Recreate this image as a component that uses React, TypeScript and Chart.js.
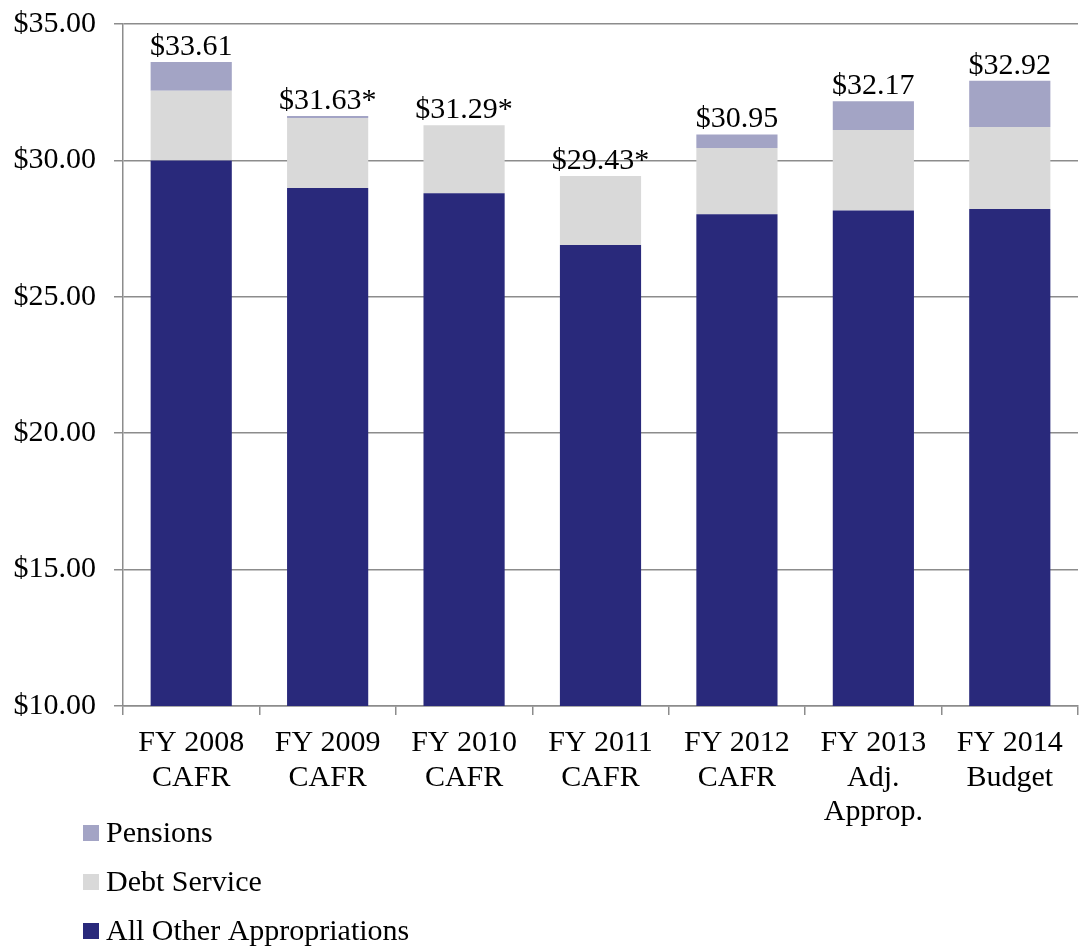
import React, { useEffect, useRef } from "react";
import { Chart, registerables } from "chart.js";

Chart.register(...registerables);

const categories: string[][] = [
  ["FY 2008", "CAFR"],
  ["FY 2009", "CAFR"],
  ["FY 2010", "CAFR"],
  ["FY 2011", "CAFR"],
  ["FY 2012", "CAFR"],
  ["FY 2013", "Adj.", "Approp."],
  ["FY 2014", "Budget"],
];
const allOther = [30.0, 28.99, 28.8, 26.9, 28.03, 28.16, 28.22];
const debtService = [2.55, 2.56, 2.49, 2.53, 2.42, 2.95, 3.0];
const pensions = [1.06, 0.08, 0.0, 0.0, 0.5, 1.06, 1.7];
const totalLabels = ["$33.61", "$31.63*", "$31.29*", "$29.43*", "$30.95", "$32.17", "$32.92"];
const yTicks = { min: 10, max: 35, step: 5 };

const COLORS = {
  other: "#29297B",
  debt: "#D9D9D9",
  pension: "#A3A4C5",
  grid: "#8C8C8C",
};
const FONT = '"Liberation Serif", "Times New Roman", serif';

const totalsPlugin = {
  id: "totals",
  afterDatasetsDraw(chart: any) {
    const ctx = chart.ctx;
    const meta = chart.getDatasetMeta(2);
    ctx.save();
    ctx.font = `30px ${FONT}`;
    ctx.fillStyle = "#000";
    ctx.textAlign = "center";
    ctx.textBaseline = "alphabetic";
    meta.data.forEach((el: any, i: number) => {
      ctx.fillText(totalLabels[i], el.x, el.y - 7);
    });
    ctx.restore();
  },
};

const legendPlugin = {
  id: "sideLegend",
  afterDraw(chart: any) {
    const ctx = chart.ctx;
    const items = [
      { label: "Pensions", color: COLORS.pension },
      { label: "Debt Service", color: COLORS.debt },
      { label: "All Other Appropriations", color: COLORS.other },
    ];
    const base = chart.chartArea.bottom + 127;
    ctx.save();
    ctx.font = `30px ${FONT}`;
    ctx.textBaseline = "middle";
    ctx.textAlign = "left";
    items.forEach((it, i) => {
      const cy = base + i * 49;
      ctx.fillStyle = it.color;
      ctx.fillRect(83, cy - 8, 16, 16);
      ctx.fillStyle = "#000";
      ctx.fillText(it.label, 106, cy + 1);
    });
    ctx.restore();
  },
};

export default function App() {
  const ref = useRef<HTMLCanvasElement>(null);
  useEffect(() => {
    document.body.style.margin = "0";
    const chart = new Chart(ref.current!, {
      type: "bar",
      data: {
        labels: categories,
        datasets: [
          { label: "All Other Appropriations", data: allOther, backgroundColor: COLORS.other, stack: "s" },
          { label: "Debt Service", data: debtService, backgroundColor: COLORS.debt, stack: "s" },
          { label: "Pensions", data: pensions, backgroundColor: COLORS.pension, stack: "s" },
        ],
      },
      options: {
        responsive: false,
        animation: false,
        layout: { padding: { top: 24, right: 3, left: 0, bottom: 0 } },
        datasets: { bar: { categoryPercentage: 1, barPercentage: 0.595 } },
        plugins: {
          legend: { display: false },
          tooltip: { enabled: false },
        },
        scales: {
          x: {
            stacked: true,
            grid: { offset: true, drawOnChartArea: false, tickLength: 9, color: COLORS.grid, lineWidth: 1.5 },
            border: { color: COLORS.grid, width: 1.5 },
            ticks: { color: "#000", font: { family: FONT, size: 30, lineHeight: 1.15 }, padding: 11, maxRotation: 0, autoSkip: false },
            afterFit: (s: any) => { s.height = 244; s.paddingLeft = 0; s.paddingRight = 0; },
          },
          y: {
            stacked: true,
            min: yTicks.min,
            max: yTicks.max,
            grid: { color: COLORS.grid, tickLength: 9, lineWidth: 1.5 },
            border: { color: COLORS.grid, width: 1.5 },
            ticks: {
              stepSize: yTicks.step,
              color: "#000",
              padding: 18,
              font: { family: FONT, size: 30 },
              callback: (v: any) => "$" + Number(v).toFixed(2),
            },
            afterFit: (s: any) => { s.width = 123; s.paddingTop = 0; s.paddingBottom = 0; },
          },
        },
      },
      plugins: [totalsPlugin, legendPlugin],
    });
    return () => chart.destroy();
  }, []);
  return (
    <div style={{ width: 1081, height: 950 }}>
      <canvas ref={ref} width={1081} height={950} style={{ width: 1081, height: 950, display: "block" }} />
    </div>
  );
}
